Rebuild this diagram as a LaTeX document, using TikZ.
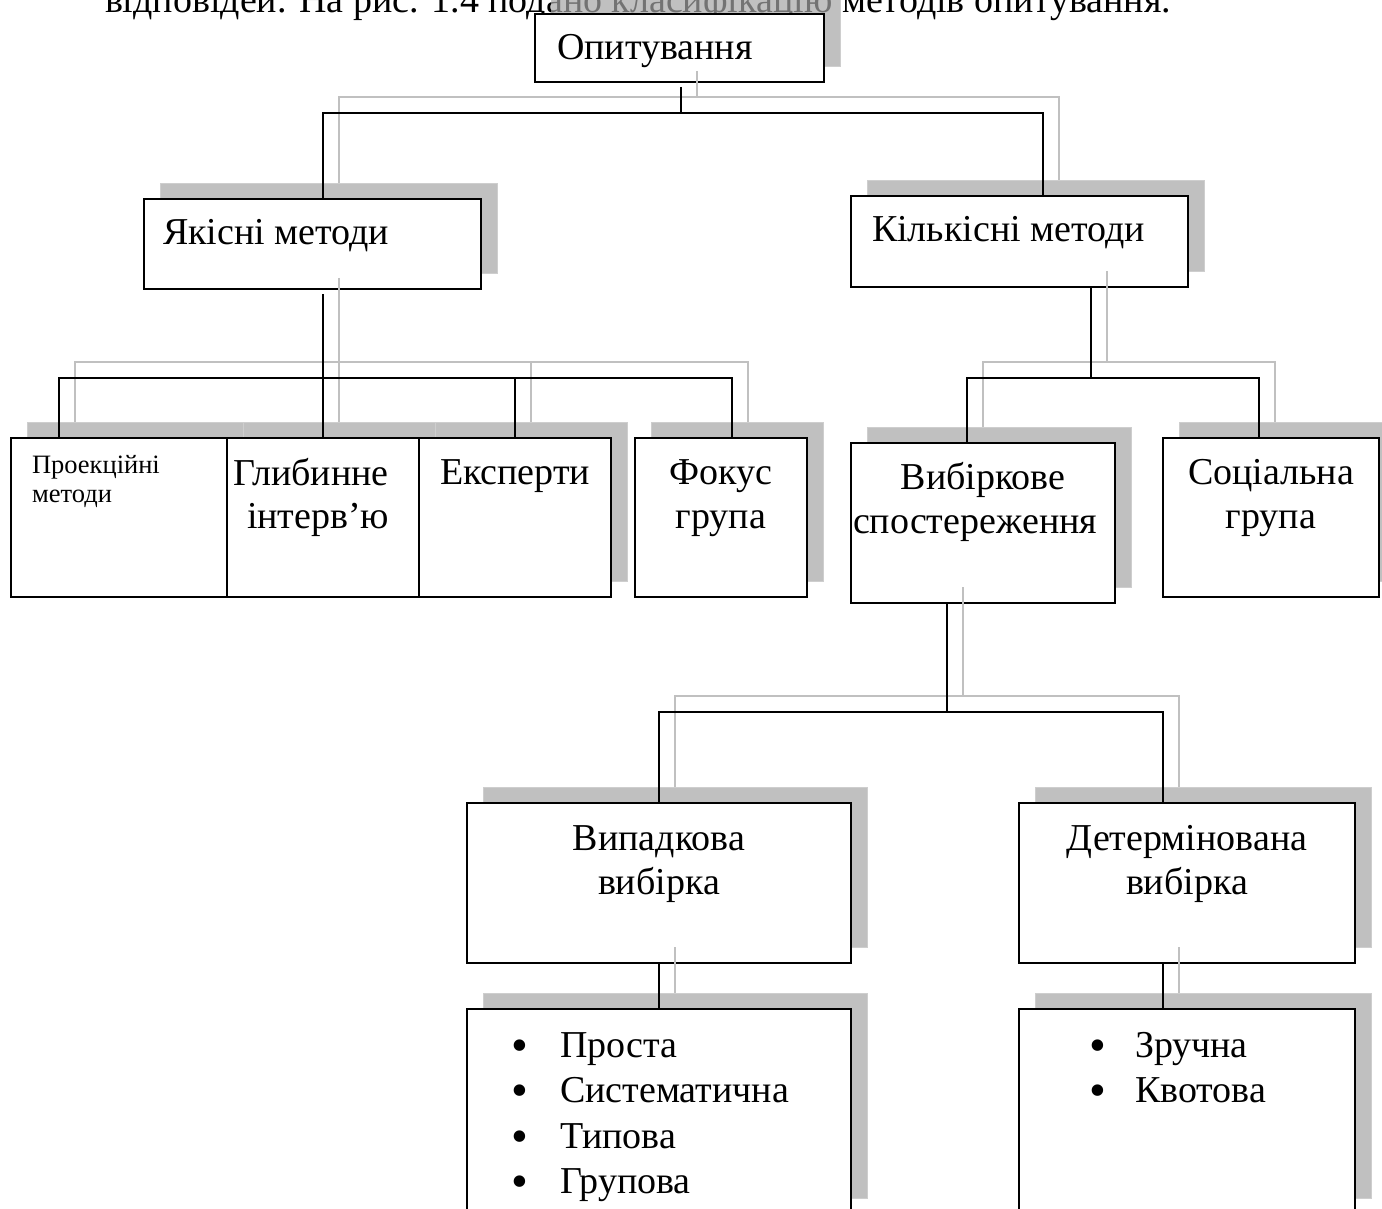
\documentclass[tikz,border=0pt]{standalone}
\usepackage{fontspec}
\setmainfont{Liberation Serif}
\usetikzlibrary{calc,backgrounds}
\definecolor{shadowc}{RGB}{192,192,192}
\definecolor{seamc}{RGB}{206,206,206}
\definecolor{glinec}{RGB}{192,192,192}
\begin{document}
\begin{tikzpicture}[x=1pt,y=-1pt,
  bx/.style={draw,line width=2pt,fill=white,rectangle,inner sep=0pt,outer sep=0pt,anchor=north west},
  shd/.style={fill=shadowc,draw=seamc,line width=0.8pt},
  txt/.style={inner sep=0pt,outer sep=0pt,anchor=base west,font=\fontsize{38}{45}\selectfont},
  ctxt/.style={txt,anchor=base},
  stxt/.style={txt,font=\fontsize{26.5}{29}\selectfont},
  bul/.style={txt,font=\fontsize{48}{48}\selectfont},
  bk/.style={line width=2pt,draw=black},
  gr/.style={line width=1.6pt,draw=glinec}]
\useasboundingbox (0,0) rectangle (1382,1209);
\clip (0,0) rectangle (1382,1209);

% boxes
\node[bx,minimum width=289pt,minimum height=68pt] (top) at (535,14) {};
\node[bx,minimum width=337pt,minimum height=90pt] (qual) at (144,199) {};
\node[bx,minimum width=337pt,minimum height=91pt] (quan) at (851,196) {};
\node[bx,minimum width=216pt,minimum height=159pt] (proj) at (11,438) {};
\node[bx,minimum width=192pt,minimum height=159pt] (deep) at (227,438) {};
\node[bx,minimum width=192pt,minimum height=159pt] (expt) at (419,438) {};
\node[bx,minimum width=172pt,minimum height=159pt] (focus) at (635,438) {};
\node[bx,minimum width=264pt,minimum height=160pt] (sample) at (851,443) {};
\node[bx,minimum width=216pt,minimum height=159pt] (social) at (1163,438) {};
\node[bx,minimum width=384pt,minimum height=160pt] (random) at (467,803) {};
\node[bx,minimum width=336pt,minimum height=160pt] (determ) at (1019,803) {};
\node[bx,minimum width=384pt,minimum height=205pt] (rlist) at (467,1009) {};
\node[bx,minimum width=336pt,minimum height=205pt] (dlist) at (1019,1009) {};

% shadows and the text line above
\begin{pgfonlayer}{background}
\foreach \n in {top,qual,quan,proj,deep,expt,focus,sample,social,random,determ,rlist,dlist}
  \path[shd] ([shift={(16,-16)}]\n.south west) rectangle ([shift={(16,-16)}]\n.north east);
\node[txt] (body) at (105,13) {відповідей. На рис. 1.4 подано класифікацію методів опитування.};
\fill[shadowc,fill opacity=0.6] ([shift={(16,-16)}]top.south west) rectangle ([shift={(16,-16)}]top.north east);
\end{pgfonlayer}

% texts
\node[txt] (t-top) at (557,60) {Опитування};
\node[txt] (t-qual) at (163,244) {Якісні методи};
\node[txt] (t-quan) at (872,242) {Кількісні методи};
\node[stxt] (t-proj1) at (32,473) {Проекційні};
\node[stxt] (t-proj2) at (32,502) {методи};
\node[txt] (t-deep1) at (233,485) {Глибинне};
\node[txt] (t-deep2) at (247,528) {інтерв’ю};
\node[txt] (t-expt) at (440,484) {Експерти};
\node[ctxt] (t-focus1) at (721,484) {Фокус};
\node[ctxt] (t-focus2) at (721,528) {група};
\node[ctxt] (t-sample1) at (983,489) {Вибіркове};
\node[txt] (t-sample2) at (853,533) {спостереження};
\node[ctxt] (t-social1) at (1271,484) {Соціальна};
\node[ctxt] (t-social2) at (1271,528) {група};
\node[ctxt] (t-rand1) at (659,850) {Випадкова};
\node[ctxt] (t-rand2) at (659,894) {вибірка};
\node[ctxt] (t-det1) at (1187,850) {Детермінована};
\node[ctxt] (t-det2) at (1187,894) {вибірка};
\foreach \t [count=\i from 0] in {Проста,Систематична,Типова,Групова} {
  \node[bul] (rb\i) at (511,1061+45.5*\i) {•};
  \node[txt] (ri\i) at (560,1057+45.5*\i) {\t};
}
\foreach \t [count=\i from 0] in {Зручна,Квотова} {
  \node[bul] (db\i) at (1089,1061+45.5*\i) {•};
  \node[txt] (di\i) at (1135,1057+45.5*\i) {\t};
}

% junction coordinates
\coordinate (j0) at (681,113);
\coordinate (a1) at (323,113);
\coordinate (a2) at (1043,113);
\coordinate (b0) at (323,378);
\coordinate (b1) at (59,378);
\coordinate (b3) at (515,378);
\coordinate (b4) at (732,378);
\coordinate (c0) at (1091,378);
\coordinate (c1) at (967,378);
\coordinate (c2) at (1259,378);
\coordinate (d0) at (947,712);
\coordinate (d1) at (659,712);
\coordinate (d2) at (1163,712);

% grey connector shadows
\draw[gr] ($(top.south)+(17.5,-11)$) -- ($(j0)+(16,-16)$);
\draw[gr] ($(a1 |- qual.north)+(16,-16)$) -- ($(a1)+(16,-16)$) -- ($(a2)+(16,-16)$) -- ($(a2 |- quan.north)+(16,-16)$);
\draw[gr] ($(b0 |- qual.south)+(16,-11)$) -- ($(b0 |- deep.north)+(16,-16)$);
\draw[gr] ($(b1 |- proj.north)+(16,-16)$) -- ($(b1)+(16,-16)$) -- ($(b4)+(16,-16)$) -- ($(b4 |- focus.north)+(16,-16)$);
\draw[gr] ($(b3)+(16,-16)$) -- ($(b3 |- expt.north)+(16,-16)$);
\draw[gr] ($(c0 |- quan.south)+(16,-16)$) -- ($(c0)+(16,-16)$);
\draw[gr] ($(c1 |- sample.north)+(16,-16)$) -- ($(c1)+(16,-16)$) -- ($(c2)+(16,-16)$) -- ($(c2 |- social.north)+(16,-16)$);
\draw[gr] ($(d0 |- sample.south)+(16,-16)$) -- ($(d0)+(16,-16)$);
\draw[gr] ($(d1 |- random.north)+(16,-16)$) -- ($(d1)+(16,-16)$) -- ($(d2)+(16,-16)$) -- ($(d2 |- determ.north)+(16,-16)$);
\draw[gr] ($(d1 |- random.south)+(16,-16)$) -- ($(d1 |- rlist.north)+(16,-16)$);
\draw[gr] ($(d2 |- determ.south)+(16,-16)$) -- ($(d2 |- dlist.north)+(16,-16)$);

% black connectors
\draw[bk] ($(top.south)+(1.5,5)$) -- (j0);
\draw[bk] (a1 |- qual.north) -- (a1) -- (a2) -- (a2 |- quan.north);
\draw[bk] ($(b0 |- qual.south)+(0,5)$) -- (b0 |- deep.north);
\draw[bk] (b1 |- proj.north) -- (b1) -- (b4) -- (b4 |- focus.north);
\draw[bk] (b3) -- (b3 |- expt.north);
\draw[bk] (c0 |- quan.south) -- (c0);
\draw[bk] (c1 |- sample.north) -- (c1) -- (c2) -- (c2 |- social.north);
\draw[bk] (d0 |- sample.south) -- (d0);
\draw[bk] (d1 |- random.north) -- (d1) -- (d2) -- (d2 |- determ.north);
\draw[bk] (d1 |- random.south) -- (d1 |- rlist.north);
\draw[bk] (d2 |- determ.south) -- (d2 |- dlist.north);
\end{tikzpicture}
\end{document}
